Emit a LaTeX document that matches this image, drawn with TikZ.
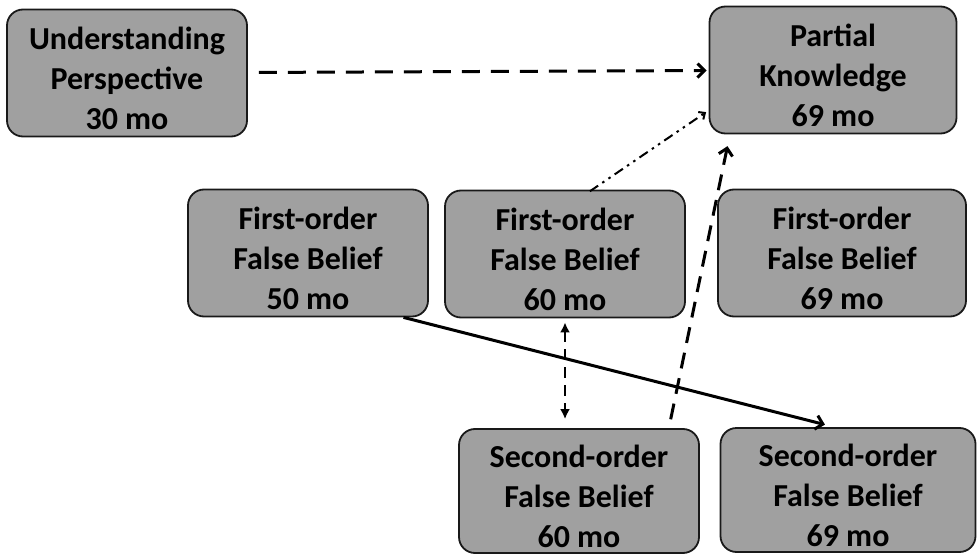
\documentclass[tikz,border=0pt]{standalone}
\usepackage{fontspec}
\setmainfont{Carlito}
\usetikzlibrary{arrows.meta}
\definecolor{boxgray}{RGB}{160,160,160}
\tikzstyle{box}=[rectangle, rounded corners=16pt, draw=black!90, line width=1.8pt, fill=boxgray, align=center, inner sep=0pt, minimum width=240pt, minimum height=127pt, text height=113pt, text depth=0pt, font=\bfseries\fontsize{32}{40}\selectfont]
\tikzstyle{link}=[line width=3pt, -{Straight Barb[length=7pt,width=14pt]}]
\begin{document}
\begin{tikzpicture}[x=1pt, y=-1pt]
    \useasboundingbox (0,0) rectangle (977,556);
    \node[box] (UP) at (127,73) {Understanding\\Perspective\\30 mo};
    \node[box, minimum width=247pt] (PK) at (833,70) {Partial\\Knowledge\\69 mo};
    \node[box] (FO50) at (308,253) {First-order\\False Belief\\50 mo};
    \node[box] (FO60) at (565,254) {First-order\\False Belief\\60 mo};
    \node[box, minimum width=248pt] (FO69) at (842,253) {First-order\\False Belief\\69 mo};
    \node[box, minimum height=124pt] (SO60) at (579,491) {Second-order\\False Belief\\60 mo};
    \node[box, minimum width=255pt, minimum height=124pt] (SO69) at (848,490) {Second-order\\False Belief\\69 mo};
    \draw[link, dash pattern=on 18pt off 11pt, shorten <=11pt, shorten >=2pt] (UP) -- (PK);
    \draw[link, line width=2pt, dash pattern=on 10pt off 5pt on 2.5pt off 5pt on 2.5pt off 5pt, -{Straight Barb[length=5pt,width=9pt]}, shorten <=-3pt, shorten >=3pt] (FO60.67) -- (PK.198);
    \draw[link, dash pattern=on 16pt off 10pt, shorten <=9pt, shorten >=12pt] (SO60.35) -- (PK.212);
    \draw[line width=2.8pt, dash pattern=on 11pt off 7pt, {Latex[length=10pt,width=10pt]}-{Latex[length=10pt,width=10pt]}, shorten <=4pt, shorten >=9pt] (FO60.south) -- (FO60.south |- SO60.north);
    \draw[link, shorten >=10pt] (FO50.-34) -- (SO69.102);
\end{tikzpicture}
\end{document}
